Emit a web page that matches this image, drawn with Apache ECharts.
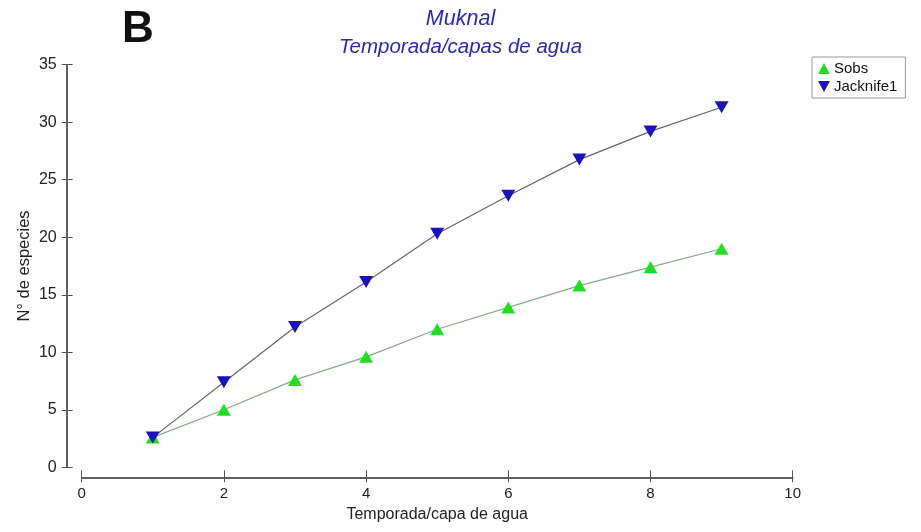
<!DOCTYPE html>
<html>
<head>
<meta charset="utf-8">
<script src="https://cdn.jsdelivr.net/npm/echarts@6/dist/echarts.min.js"></script>
<style>
  html, body { margin: 0; padding: 0; background: #ffffff; }
  #chart { width: 921px; height: 532px; }
</style>
</head>
<body>
<div id="chart"></div>
<script>
// Species accumulation: observed richness and first-order jackknife estimate
const samples = [1, 2, 3, 4, 5, 6, 7, 8, 9];
const sobs = [2.6, 5.0, 7.6, 9.6, 12.0, 13.9, 15.8, 17.4, 19.0];
const jacknife1 = [2.6, 7.4, 12.2, 16.1, 20.3, 23.6, 26.75, 29.2, 31.3];
const xTicks = [0, 2, 4, 6, 8, 10];
const yTicks = [0, 5, 10, 15, 20, 25, 30, 35];

const FONT = 'Liberation Sans, Arial, sans-serif';
const AXIS_COLOR = '#555555';

const pairs = (ys) => samples.map((x, i) => [x, ys[i]]);

const chart = echarts.init(document.getElementById('chart'), null, { renderer: 'canvas' });

// Detached axes: both axis lines sit a little away from the plotting area
const xBase = {
  type: 'value', min: xTicks[0], max: xTicks[xTicks.length - 1], interval: 2,
  position: 'bottom', offset: 10, splitLine: { show: false },
  axisLine: { show: true, onZero: false, lineStyle: { color: AXIS_COLOR, width: 1.5 } }
};
const yBase = {
  type: 'value', min: yTicks[0], max: yTicks[yTicks.length - 1], interval: 5,
  position: 'left', offset: 15, splitLine: { show: false },
  axisLine: { show: true, onZero: false, lineStyle: { color: AXIS_COLOR, width: 1.5 } }
};

chart.setOption({
  animation: false,
  backgroundColor: '#ffffff',
  title: [
    { text: 'B', left: 117, top: 3,
      textStyle: { fontFamily: FONT, fontSize: 44, fontWeight: 'bold', color: '#111111' } },
    { text: 'Muknal', left: 'center', top: 3,
      textStyle: { fontFamily: FONT, fontSize: 21.5, fontStyle: 'italic', fontWeight: 'normal', color: '#2a2ab4' } },
    { text: 'Temporada/capas de agua', left: 'center', top: 32,
      textStyle: { fontFamily: FONT, fontSize: 20.5, fontStyle: 'italic', fontWeight: 'normal', color: '#2a2ab4' } }
  ],
  legend: {
    orient: 'vertical', left: 812, top: 57,
    padding: [4, 8, 4, 6], itemGap: 3, itemWidth: 12, itemHeight: 11,
    borderColor: '#9a9a9a', borderWidth: 1, borderRadius: 0,
    textStyle: { fontFamily: FONT, fontSize: 15, color: '#111111', padding: [0, 0, 0, -1] },
    data: [
      { name: 'Sobs', icon: 'path://M5,0L10,9L0,9Z' },
      { name: 'Jacknife1', icon: 'path://M0,0L10,0L5,9Z' }
    ]
  },
  grid: { left: 81.7, right: 128.3, top: 64.7, bottom: 64.7, containLabel: false },
  xAxis: [
    Object.assign({}, xBase, {
      name: 'Temporada/capa de agua', nameLocation: 'middle', nameGap: 29,
      nameTextStyle: { fontFamily: FONT, fontSize: 16, color: '#222222' },
      axisTick: { show: true, length: 5, lineStyle: { color: AXIS_COLOR, width: 1 } },
      axisLabel: { fontFamily: FONT, fontSize: 15, color: '#222222', margin: 9 }
    }),
    Object.assign({}, xBase, {
      axisTick: { show: true, inside: true, length: 7, lineStyle: { color: AXIS_COLOR, width: 1 } },
      axisLabel: { show: false }
    })
  ],
  yAxis: [
    Object.assign({}, yBase, {
      name: 'N° de especies', nameLocation: 'middle', nameGap: 34, nameRotate: 90,
      nameMoveOverlap: false,
      nameTextStyle: { fontFamily: FONT, fontSize: 16.5, color: '#222222' },
      axisTick: { show: true, length: 5, lineStyle: { color: AXIS_COLOR, width: 1 } },
      axisLabel: { fontFamily: FONT, fontSize: 16, color: '#222222', margin: 10 }
    }),
    Object.assign({}, yBase, {
      axisTick: { show: true, inside: true, length: 6, lineStyle: { color: AXIS_COLOR, width: 1 } },
      axisLabel: { show: false }
    })
  ],
  series: [
    {
      name: 'Sobs', type: 'line', data: pairs(sobs),
      symbol: 'triangle', symbolSize: [14, 12],
      itemStyle: { color: '#1fe01f' },
      lineStyle: { color: '#8aa88a', width: 1.2 },
      z: 2
    },
    {
      name: 'Jacknife1', type: 'line', data: pairs(jacknife1),
      symbol: 'triangle', symbolRotate: 180, symbolSize: [14, 12],
      itemStyle: { color: '#1a12bf' },
      lineStyle: { color: '#666666', width: 1.2 },
      z: 3
    }
  ]
});
</script>
</body>
</html>
